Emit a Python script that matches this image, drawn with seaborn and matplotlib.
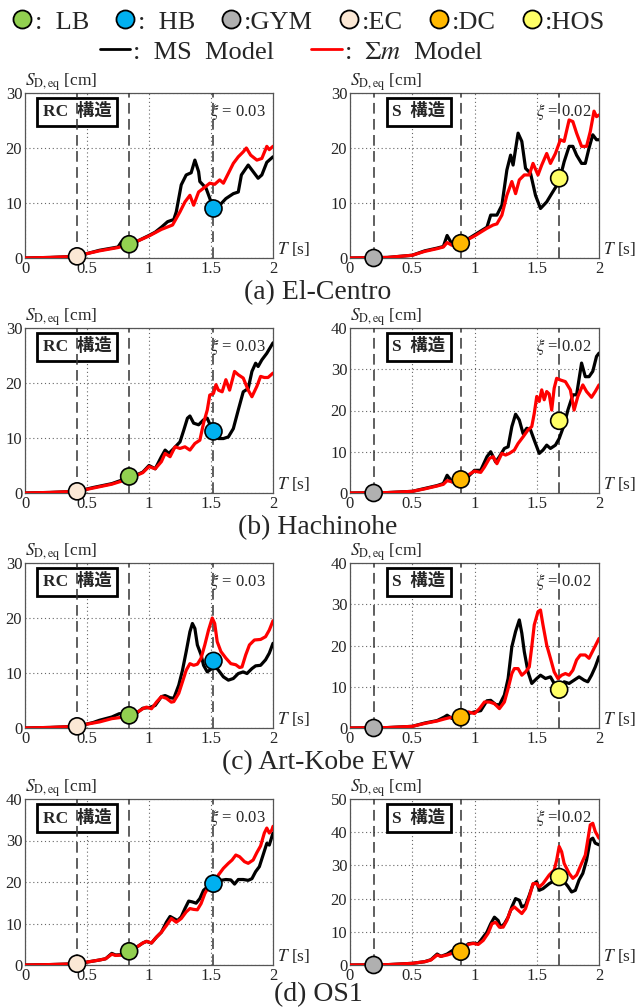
import numpy as np
import pandas as pd
import matplotlib
matplotlib.use("Agg")
import matplotlib.pyplot as plt
from matplotlib.lines import Line2D
import seaborn as sns

# ---------------- data ----------------
# natural periods of the buildings [s]
T_EC, T_LB, T_HB = 0.42, 0.84, 1.52
T_GYM, T_DC, T_HOS = 0.19, 0.89, 1.68

# (a) El-Centro
T_a_rc_ms = [0, 0.2, 0.42, 0.5, 0.6, 0.7, 0.75, 0.78, 0.81, 0.84, 0.9, 1.0, 1.05, 1.1, 1.15, 1.2, 1.22, 1.26, 1.30, 1.34,
             1.37, 1.40, 1.41, 1.46, 1.52, 1.57, 1.62, 1.68, 1.72, 1.745, 1.80, 1.84, 1.88, 1.91, 1.95, 2.0]
S_a_rc_ms = [0, 0.1, 0.3, 0.8, 1.4, 1.8, 2.0, 3.0, 2.7, 2.5, 3.0, 4.1, 4.7, 5.6, 6.6, 7.0, 8.4, 13.3, 15.1, 15.5,
             17.8, 15.7, 13.9, 12.7, 9.0, 9.6, 10.8, 11.7, 12.0, 15.1, 16.9, 15.7, 14.5, 15.1, 17.4, 18.4]
T_a_rc_sm = [0, 0.2, 0.42, 0.5, 0.6, 0.7, 0.75, 0.8, 0.84, 0.9, 1.0, 1.05, 1.1, 1.19, 1.25, 1.29, 1.33, 1.36, 1.40, 1.44,
             1.49, 1.53, 1.57, 1.60, 1.64, 1.68, 1.72, 1.76, 1.785, 1.82, 1.87, 1.91, 1.95, 1.97, 2.0]
S_a_rc_sm = [0, 0.1, 0.3, 0.8, 1.3, 1.7, 1.9, 2.2, 2.5, 3.0, 4.0, 4.6, 5.2, 6.0, 8.4, 10.2, 11.4, 9.6, 12.0, 12.7,
             13.6, 13.4, 14.2, 13.6, 15.4, 17.2, 18.4, 19.3, 20.0, 18.7, 17.8, 18.1, 20.3, 19.7, 20.3]
T_a_s_ms = [0, 0.3, 0.5, 0.6, 0.7, 0.75, 0.78, 0.81, 0.85, 0.89, 0.95, 1.0, 1.1, 1.13, 1.18, 1.22, 1.26, 1.29, 1.31, 1.35,
            1.38, 1.41, 1.45, 1.49, 1.53, 1.58, 1.62, 1.68, 1.72, 1.76, 1.79, 1.82, 1.86, 1.89, 1.92, 1.95, 1.98, 2.0]
S_a_s_ms = [0, 0.1, 0.5, 1.3, 1.8, 2.1, 4.1, 2.9, 2.5, 2.7, 3.5, 4.2, 5.6, 7.8, 7.8, 9.6, 16.0, 18.7, 16.9, 22.7,
            21.2, 16.3, 15.4, 11.4, 9.0, 10.2, 11.7, 13.9, 17.5, 20.3, 20.3, 18.7, 17.2, 17.2, 20.0, 22.4, 21.5, 21.5]
T_a_s_sm = [0, 0.3, 0.5, 0.6, 0.7, 0.75, 0.78, 0.82, 0.89, 1.0, 1.1, 1.15, 1.18, 1.22, 1.26, 1.30, 1.33, 1.36, 1.40, 1.44,
            1.47, 1.51, 1.54, 1.58, 1.61, 1.65, 1.69, 1.72, 1.76, 1.79, 1.82, 1.86, 1.90, 1.93, 1.96, 1.98, 2.0]
S_a_s_sm = [0, 0.1, 0.5, 1.2, 1.7, 2.0, 2.8, 2.3, 2.7, 4.0, 5.4, 6.0, 6.2, 7.8, 11.4, 13.9, 11.7, 14.2, 15.1, 15.1,
            17.2, 15.1, 16.9, 19.0, 17.2, 19.0, 21.5, 21.2, 25.1, 24.8, 22.7, 20.3, 20.3, 23.0, 26.7, 25.7, 26.0]

# (b) Hachinohe
T_b_rc_ms = [0, 0.2, 0.42, 0.55, 0.7, 0.8, 0.84, 0.9, 0.95, 1.0, 1.05, 1.1, 1.13, 1.16, 1.2, 1.25, 1.28, 1.31, 1.33, 1.36,
             1.40, 1.44, 1.47, 1.50, 1.53, 1.56, 1.60, 1.64, 1.68, 1.72, 1.76, 1.80, 1.83, 1.86, 1.88, 1.91, 1.95, 2.0]
S_b_rc_ms = [0, 0.1, 0.3, 1.0, 1.7, 2.5, 3.0, 3.3, 3.8, 5.0, 4.4, 6.6, 7.8, 7.2, 8.1, 9.3, 11.4, 13.6, 14.0, 12.7,
             12.4, 13.3, 13.6, 12.0, 10.8, 9.9, 9.9, 10.2, 11.7, 15.1, 18.4, 19.0, 22.1, 23.6, 23.0, 24.2, 25.4, 27.3]
T_b_rc_sm = [0, 0.2, 0.42, 0.55, 0.7, 0.8, 0.84, 0.9, 0.95, 1.0, 1.05, 1.1, 1.13, 1.17, 1.21, 1.25, 1.29, 1.33, 1.37, 1.41,
             1.44, 1.47, 1.49, 1.52, 1.54, 1.56, 1.59, 1.62, 1.65, 1.69, 1.72, 1.76, 1.80, 1.83, 1.87, 1.90, 1.93, 1.96, 2.0]
S_b_rc_sm = [0, 0.1, 0.3, 0.9, 1.6, 2.3, 2.9, 3.2, 3.7, 4.8, 4.4, 5.7, 7.2, 6.6, 8.4, 8.1, 8.4, 7.8, 9.0, 9.6,
             12.7, 15.1, 17.8, 18.1, 19.7, 18.7, 18.4, 20.6, 18.7, 22.1, 21.5, 20.9, 18.7, 17.5, 19.4, 21.2, 21.0, 21.0, 21.8]
T_b_s_ms = [0, 0.3, 0.5, 0.6, 0.7, 0.75, 0.78, 0.82, 0.89, 0.95, 1.0, 1.05, 1.10, 1.13, 1.17, 1.20, 1.24, 1.27, 1.30, 1.33,
            1.36, 1.39, 1.42, 1.45, 1.48, 1.52, 1.55, 1.58, 1.61, 1.65, 1.68, 1.72, 1.75, 1.79, 1.82, 1.86, 1.89, 1.92,
            1.95, 1.98, 2.0]
S_b_s_ms = [0, 0.1, 0.4, 1.1, 1.8, 2.3, 4.3, 2.7, 3.3, 4.0, 5.5, 5.5, 8.8, 10.0, 7.5, 8.8, 10.8, 11.2, 16.1, 19.1,
            17.7, 14.4, 15.7, 15.3, 12.8, 9.6, 10.4, 11.6, 10.8, 11.6, 13.2, 16.5, 20.1, 23.8, 23.8, 31.5, 28.2, 28.2,
            29.5, 33.1, 33.9]
T_b_s_sm = [0, 0.3, 0.5, 0.6, 0.7, 0.75, 0.78, 0.82, 0.89, 1.0, 1.05, 1.08, 1.12, 1.15, 1.18, 1.22, 1.25, 1.28, 1.32, 1.35,
            1.39, 1.43, 1.46, 1.48, 1.50, 1.52, 1.54, 1.56, 1.58, 1.60, 1.62, 1.64, 1.66, 1.69, 1.73, 1.77, 1.80, 1.83,
            1.87, 1.90, 1.94, 1.97, 2.0]
S_b_s_sm = [0, 0.1, 0.4, 1.0, 1.7, 2.1, 3.0, 2.7, 3.3, 5.3, 5.0, 6.3, 8.4, 8.8, 7.1, 9.6, 9.2, 9.6, 10.4, 12.0,
            13.6, 15.3, 16.1, 19.3, 23.4, 22.2, 25.0, 22.6, 24.6, 24.0, 20.1, 25.4, 27.8, 27.4, 27.0, 25.0, 20.1, 23.4,
            26.2, 24.6, 23.2, 24.6, 26.2]

# (c) Art-Kobe EW
T_c_rc_ms = [0, 0.2, 0.42, 0.55, 0.6, 0.7, 0.76, 0.8, 0.84, 0.9, 0.95, 1.0, 1.05, 1.1, 1.13, 1.17, 1.2, 1.24, 1.27, 1.30,
             1.33, 1.35, 1.37, 1.39, 1.42, 1.44, 1.47, 1.50, 1.52, 1.56, 1.60, 1.64, 1.68, 1.72, 1.76, 1.79, 1.83, 1.86,
             1.90, 1.94, 1.97, 2.0]
S_c_rc_ms = [0, 0.1, 0.3, 1.0, 1.4, 2.0, 2.6, 2.6, 2.3, 2.7, 3.6, 3.7, 4.1, 5.7, 5.9, 5.5, 5.4, 7.8, 10.5, 13.9,
             17.5, 19.0, 18.1, 15.1, 13.3, 11.4, 10.2, 10.7, 11.6, 10.5, 9.3, 8.7, 9.0, 9.9, 10.2, 9.9, 10.8, 11.3,
             11.4, 12.4, 13.6, 15.4]
T_c_rc_sm = [0, 0.2, 0.42, 0.5, 0.6, 0.7, 0.8, 0.84, 0.9, 0.95, 0.98, 1.02, 1.06, 1.1, 1.14, 1.18, 1.2, 1.24, 1.27, 1.30,
             1.33, 1.36, 1.39, 1.42, 1.45, 1.48, 1.51, 1.53, 1.55, 1.58, 1.62, 1.66, 1.70, 1.73, 1.75, 1.78, 1.81, 1.85,
             1.90, 1.94, 1.97, 2.0]
S_c_rc_sm = [0, 0.1, 0.3, 0.7, 1.1, 1.7, 2.0, 2.3, 2.8, 3.5, 3.8, 3.5, 4.7, 5.7, 5.4, 4.7, 4.8, 6.3, 8.4, 10.5,
             11.7, 11.4, 11.6, 12.7, 15.1, 17.8, 20.0, 19.0, 15.7, 13.9, 12.7, 11.7, 11.5, 11.0, 11.1, 13.3, 15.1, 16.0,
             16.1, 16.6, 17.8, 19.5]
T_c_s_ms = [0, 0.3, 0.5, 0.6, 0.7, 0.76, 0.78, 0.82, 0.89, 0.95, 1.0, 1.05, 1.1, 1.13, 1.17, 1.2, 1.24, 1.27, 1.30, 1.33,
            1.36, 1.38, 1.40, 1.43, 1.46, 1.50, 1.53, 1.57, 1.61, 1.64, 1.68, 1.72, 1.76, 1.80, 1.84, 1.88, 1.91, 1.94,
            1.97, 2.0]
S_c_s_ms = [0, 0.1, 0.4, 1.2, 1.8, 2.7, 3.1, 2.3, 2.6, 3.5, 3.9, 4.2, 6.6, 6.7, 5.7, 5.6, 8.0, 12.0, 19.7, 23.4,
            26.2, 23.0, 18.5, 13.6, 10.8, 12.0, 12.8, 12.0, 12.4, 10.8, 9.2, 11.2, 10.8, 11.6, 12.4, 11.6, 11.2, 12.8,
            14.8, 17.3]
T_c_s_sm = [0, 0.3, 0.5, 0.6, 0.7, 0.76, 0.8, 0.89, 0.95, 1.0, 1.04, 1.08, 1.12, 1.16, 1.2, 1.24, 1.27, 1.30, 1.32, 1.35,
            1.38, 1.41, 1.44, 1.46, 1.48, 1.51, 1.53, 1.55, 1.58, 1.61, 1.64, 1.67, 1.70, 1.73, 1.76, 1.79, 1.82, 1.85,
            1.89, 1.92, 1.96, 2.0]
S_c_s_sm = [0, 0.1, 0.4, 1.1, 1.7, 2.2, 2.5, 2.6, 3.9, 3.5, 4.7, 6.3, 6.3, 5.9, 4.7, 6.3, 9.6, 13.2, 14.4, 14.4,
            12.8, 13.6, 14.8, 19.7, 25.0, 28.2, 28.6, 25.0, 20.1, 16.9, 13.6, 12.0, 12.8, 13.2, 12.8, 14.0, 16.5, 17.7,
            17.7, 16.9, 19.3, 21.7]

# (d) OS1
T_d_rc_ms = [0, 0.2, 0.42, 0.5, 0.6, 0.65, 0.7, 0.73, 0.78, 0.82, 0.84, 0.9, 0.95, 0.98, 1.02, 1.06, 1.1, 1.14, 1.17, 1.2,
             1.23, 1.26, 1.29, 1.32, 1.35, 1.38, 1.41, 1.44, 1.47, 1.52, 1.55, 1.58, 1.62, 1.66, 1.69, 1.72, 1.76, 1.80,
             1.83, 1.86, 1.89, 1.92, 1.95, 1.97, 2.0]
S_d_rc_ms = [0, 0.1, 0.3, 0.7, 1.2, 1.5, 2.8, 2.4, 2.5, 3.1, 3.3, 4.3, 5.3, 5.7, 5.3, 6.7, 7.9, 10.3, 11.7, 11.2,
             10.7, 11.6, 13.6, 15.4, 15.2, 14.9, 16.0, 18.0, 18.8, 19.4, 20.0, 20.4, 20.6, 20.5, 19.5, 20.6, 20.6, 20.4,
             20.8, 22.5, 23.7, 26.5, 29.3, 28.9, 31.8]
T_d_rc_sm = [0, 0.2, 0.42, 0.5, 0.6, 0.65, 0.7, 0.73, 0.78, 0.82, 0.84, 0.9, 0.95, 0.98, 1.02, 1.06, 1.1, 1.14, 1.18, 1.22,
             1.26, 1.30, 1.33, 1.36, 1.39, 1.42, 1.45, 1.48, 1.52, 1.56, 1.60, 1.64, 1.67, 1.70, 1.73, 1.77, 1.80, 1.84,
             1.87, 1.90, 1.93, 1.95, 1.97, 1.99, 2.0]
S_d_rc_sm = [0, 0.1, 0.3, 0.7, 1.2, 1.5, 2.6, 2.3, 2.4, 3.0, 3.3, 4.3, 5.3, 5.7, 5.3, 6.7, 7.9, 9.5, 11.2, 10.3,
             11.2, 12.8, 13.6, 13.4, 13.3, 14.8, 17.2, 18.8, 19.6, 21.7, 23.3, 24.5, 25.3, 26.5, 26.1, 24.9, 24.5, 25.3,
             27.1, 28.7, 31.8, 33.0, 31.8, 32.5, 33.4]
T_d_s_ms = [0, 0.3, 0.5, 0.6, 0.65, 0.7, 0.73, 0.78, 0.82, 0.85, 0.89, 0.95, 0.99, 1.03, 1.06, 1.1, 1.13, 1.16, 1.19, 1.21,
            1.24, 1.27, 1.3, 1.33, 1.36, 1.38, 1.41, 1.44, 1.47, 1.5, 1.52, 1.55, 1.6, 1.65, 1.68, 1.72, 1.75, 1.78,
            1.81, 1.84, 1.87, 1.9, 1.93, 1.95, 1.97, 2.0]
S_d_s_ms = [0, 0.1, 0.5, 1.0, 1.6, 3.3, 2.6, 3.3, 4.3, 3.8, 4.0, 6.4, 6.6, 6.4, 7.9, 9.9, 12.4, 14.4, 13.4, 11.4,
            12.4, 14.4, 17.5, 20.0, 19.5, 17.5, 18.0, 21.0, 24.3, 25.1, 22.5, 23.0, 24.5, 25.6, 26.3, 25.1, 23.7, 22.0,
            22.5, 25.6, 27.6, 31.6, 37.7, 38.2, 36.7, 36.2]
T_d_s_sm = [0, 0.3, 0.5, 0.6, 0.65, 0.7, 0.73, 0.78, 0.82, 0.89, 0.95, 0.99, 1.03, 1.07, 1.11, 1.14, 1.17, 1.2, 1.23, 1.26,
            1.29, 1.32, 1.35, 1.38, 1.41, 1.44, 1.47, 1.5, 1.52, 1.55, 1.6, 1.64, 1.66, 1.68, 1.7, 1.72, 1.76, 1.79,
            1.82, 1.86, 1.89, 1.91, 1.93, 1.95, 1.97, 2.0]
S_d_s_sm = [0, 0.1, 0.5, 1.0, 1.5, 3.0, 2.6, 3.0, 3.5, 4.0, 6.2, 6.5, 6.2, 7.4, 9.6, 12.4, 12.9, 11.4, 11.4, 13.4,
            16.5, 17.5, 16.5, 15.5, 17.0, 20.5, 24.5, 24.5, 23.5, 24.5, 27.1, 28.6, 31.6, 35.7, 34.1, 30.6, 27.6, 26.1,
            27.1, 30.6, 33.1, 37.7, 42.2, 42.7, 40.2, 38.2]

# building response points (S_D at each building period)
rc_bldg = ["EC", "LB", "HB"]
s_bldg = ["GYM", "DC", "HOS"]
rc_T = [T_EC, T_LB, T_HB]
s_T = [T_GYM, T_DC, T_HOS]
pts_a_rc = [0.3, 2.5, 9.0]
pts_a_s = [0.0, 2.7, 14.5]
pts_b_rc = [0.3, 3.0, 11.2]
pts_b_s = [0.0, 3.3, 17.5]
pts_c_rc = [0.3, 2.3, 12.2]
pts_c_s = [0.0, 2.6, 9.3]
pts_d_rc = [0.3, 3.3, 19.6]
pts_d_s = [0.0, 4.0, 26.5]

ylim_left = [30, 30, 30, 40]
ylim_right = [30, 40, 40, 50]
captions = ["(a) El-Centro", "(b) Hachinohe", "(c) Art-Kobe EW", "(d) OS1"]
legend_bldg = ["LB", "HB", "GYM", "EC", "DC", "HOS"]
legend_text = [":  LB", ":  HB", ":GYM", ":EC", ":DC", ":HOS"]

# ---------------- style ----------------
sns.set_style("white")
SERIF = ['Liberation Serif', 'Noto Sans CJK JP', 'DejaVu Sans']
plt.rcParams['font.family'] = SERIF
plt.rcParams['mathtext.fontset'] = 'stix'

colors = {"LB": "#92D050", "HB": "#00B0F0", "GYM": "#B0B0B0",
          "EC": "#FBE8D5", "DC": "#FFB800", "HOS": "#FFFF66"}
C_MS = "black"
C_SM = "#FF0000"

fig = plt.figure(figsize=(6.36, 10.07), dpi=100)
W, H = 636, 1007

def axes_px(x0, top, x1, bottom):
    return fig.add_axes([x0 / W, 1 - bottom / H, (x1 - x0) / W, (bottom - top) / H])

rows_px = [(93, 258), (328, 493), (563, 728), (799, 965)]
cap_y = [293, 528, 763, 995]

panels = [
    (T_a_rc_ms, S_a_rc_ms, T_a_rc_sm, S_a_rc_sm, pts_a_rc, T_a_s_ms, S_a_s_ms, T_a_s_sm, S_a_s_sm, pts_a_s),
    (T_b_rc_ms, S_b_rc_ms, T_b_rc_sm, S_b_rc_sm, pts_b_rc, T_b_s_ms, S_b_s_ms, T_b_s_sm, S_b_s_sm, pts_b_s),
    (T_c_rc_ms, S_c_rc_ms, T_c_rc_sm, S_c_rc_sm, pts_c_rc, T_c_s_ms, S_c_s_ms, T_c_s_sm, S_c_s_sm, pts_c_s),
    (T_d_rc_ms, S_d_rc_ms, T_d_rc_sm, S_d_rc_sm, pts_d_rc, T_d_s_ms, S_d_s_ms, T_d_s_sm, S_d_s_sm, pts_d_s),
]


def draw_panel(ax, Tms, Sms, Tsm, Ssm, bT, bS, names, ymax, label, xi, box_x):
    ax.set_xlim(0, 2)
    ax.set_ylim(0, ymax)
    ax.set_xticks([0, 0.5, 1, 1.5, 2])
    ax.set_xticklabels(["0", "0.5", "1", "1.5", "2"], fontfamily=SERIF)
    yt = np.arange(0, ymax + 1, 10)
    ax.set_yticks(yt)
    ax.set_yticklabels([str(v) for v in yt], fontfamily=SERIF)
    ax.set_axisbelow(True)
    ax.grid(True, ls=(0, (1, 2.5)), color="#666666", lw=0.8)
    for sp in ax.spines.values():
        sp.set_color("#555555")
        sp.set_linewidth(0.9)
    ax.tick_params(labelsize=12, direction="in", length=2.5, color="#555555", pad=2)
    for t in bT:
        ax.axvline(t, color="#333333", lw=1.1, ls=(0, (7, 3.5)), zorder=3)
    sns.lineplot(x=Tms, y=Sms, ax=ax, color=C_MS, lw=2.3, zorder=4, sort=False)
    sns.lineplot(x=Tsm, y=Ssm, ax=ax, color=C_SM, lw=2.3, zorder=4.5, sort=False)
    sns.scatterplot(x=bT, y=bS, hue=names, palette=[colors[n] for n in names], ax=ax, s=150,
                    edgecolor="black", linewidth=1.2, zorder=6, legend=False, clip_on=False)
    ax.set_xlabel("")
    ax.set_ylabel("")
    ax.text(0.0, 1.0, r"$S_{\rm D,eq}$ [cm]", transform=ax.transAxes, ha="left", va="bottom", fontsize=12.5)
    ax.text(1.015, 0.0, r"$T$ [s]", transform=ax.transAxes, ha="left", va="bottom", fontsize=12.5)
    ax.text(0.97, 0.885, r"$\xi$ = " + xi, transform=ax.transAxes, ha="right", va="center",
            fontsize=12, zorder=2)
    ax.text(box_x, 0.885, label, transform=ax.transAxes, ha="center", va="center", fontsize=12.5,
            fontweight="bold", zorder=2.5,
            bbox=dict(boxstyle="square,pad=0.3", fc="white", ec="black", lw=2.0))


for i, (r0, r1) in enumerate(rows_px):
    p = panels[i]
    axL = axes_px(25, r0, 273, r1)
    draw_panel(axL, p[0], p[1], p[2], p[3], rc_T, p[4], rc_bldg, ylim_left[i], "RC  構造", "0.03", 0.21)
    axR = axes_px(350, r0, 599, r1)
    draw_panel(axR, p[5], p[6], p[7], p[8], s_T, p[9], s_bldg, ylim_right[i], "S  構造", "0.02", 0.277)
    fig.text(318 / W, 1 - cap_y[i] / H, captions[i], ha="center", va="center", fontsize=20)

# legends
h1 = [Line2D([], [], ls="", marker="o", markersize=13, mfc=colors[n], mec="black", mew=1.3)
      for n in legend_bldg]
fig.legend(h1, legend_text, loc="center", bbox_to_anchor=(0.4835, 1 - 22 / H), ncol=6, frameon=False,
           fontsize=19, handlelength=0.9, handletextpad=0.05, columnspacing=0.9, borderpad=0)
h2 = [Line2D([], [], color=C_MS, lw=2), Line2D([], [], color=C_SM, lw=2)]
fig.legend(h2, [":  MS  Model", r":  $\Sigma m$  Model"], loc="center", bbox_to_anchor=(0.459, 1 - 52 / H),
           ncol=2, frameon=False, fontsize=19, handlelength=1.15, handletextpad=0.1, columnspacing=1.4,
           borderpad=0)

fig.savefig("out.png", dpi=100)
